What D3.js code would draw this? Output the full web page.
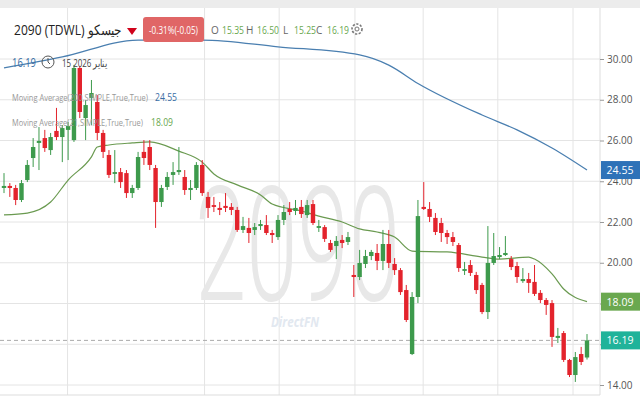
<!DOCTYPE html>
<html><head><meta charset="utf-8">
<script src="https://cdn.jsdelivr.net/npm/d3@7"></script>
<style>body{margin:0;background:#fff;font-family:"Open Sans",sans-serif}</style>
</head><body><svg id="c" width="640" height="400"></svg>
<script>
const opens=[23.67,23.77,23.67,23.08,24.06,25.14,25.88,26.12,25.53,26.47,26.17,26.52,26.02,29.56,27.10,28.09,27.89,26.37,25.29,24.36,24.45,24.40,23.42,23.67,25.44,25.68,24.65,22.98,23.72,24.31,24.45,24.21,23.57,23.67,24.80,23.23,22.83,22.69,22.79,22.74,22.59,21.61,21.71,21.61,21.80,21.85,21.46,21.26,22.10,22.64,22.54,22.74,22.34,22.88,21.71,21.75,20.97,20.82,21.12,21.02,19.40,19.30,19.94,20.33,20.48,20.09,20.92,19.94,19.64,18.66,15.52,18.32,22.74,22.64,22.20,21.95,21.46,21.26,20.87,19.60,19.89,19.40,18.91,17.58,19.99,20.28,20.38,20.18,19.84,19.10,19.20,19.06,18.52,18.17,18.02,16.31,16.55,15.23,14.49,15.52,15.35];
const highs=[24.40,23.91,23.82,24.06,25.04,26.12,26.66,26.52,26.37,27.60,26.76,26.91,29.71,29.66,27.99,28.97,28.23,26.52,25.53,25.53,24.65,24.55,23.82,25.44,26.02,26.02,24.80,23.82,24.45,24.94,25.68,24.55,24.06,24.94,25.04,23.47,23.23,22.98,23.42,22.93,22.74,22.25,22.20,21.95,22.10,22.34,21.61,22.34,22.83,22.98,23.08,23.08,23.08,23.08,22.10,21.85,21.12,21.31,21.36,21.51,19.89,20.63,20.63,20.63,20.92,21.61,21.61,20.23,19.74,18.91,18.56,23.08,23.96,22.98,22.44,22.20,21.61,21.51,20.97,20.04,20.13,19.55,19.01,21.80,21.46,20.77,21.31,20.33,20.04,19.74,19.50,19.89,18.66,18.27,18.17,16.80,16.65,15.28,15.62,15.87,16.50];
const lows=[23.42,23.23,22.83,22.98,23.96,24.70,24.55,25.44,25.29,26.02,24.94,25.04,25.93,27.10,26.02,26.76,26.02,25.14,24.16,23.91,23.67,23.18,23.18,23.57,24.80,24.55,21.71,22.74,23.57,23.82,24.31,23.33,23.08,23.57,23.28,22.20,22.49,22.34,22.49,22.34,21.51,21.46,20.97,21.36,21.61,21.36,20.97,21.12,21.85,22.34,22.34,22.20,22.20,21.85,21.51,21.02,20.53,20.18,20.72,20.87,18.32,19.15,19.74,20.13,19.64,19.64,19.74,19.40,18.42,17.09,15.47,18.02,22.59,22.00,21.36,21.02,20.92,20.82,19.55,19.40,19.35,18.47,17.48,17.24,19.89,20.18,20.33,19.64,19.01,19.01,18.52,18.37,18.02,17.44,15.87,16.06,15.13,14.39,14.15,14.98,15.25];
const closes=[23.77,23.67,23.08,23.91,24.80,25.68,25.98,25.63,26.17,26.17,26.61,26.71,29.56,27.40,27.74,28.33,26.37,25.44,24.31,24.45,23.96,23.42,23.67,25.19,25.14,24.80,22.98,23.67,24.21,24.45,24.55,23.57,23.67,24.80,23.42,22.69,22.74,22.59,22.69,22.59,21.61,21.80,21.46,21.75,21.90,21.46,21.36,22.10,22.49,22.49,22.69,22.39,22.83,21.95,21.80,21.17,20.63,21.07,20.97,21.26,19.30,19.99,20.33,20.53,20.09,20.92,19.99,19.64,18.56,17.19,18.32,22.29,22.64,22.25,21.51,21.46,21.26,21.02,19.74,19.69,19.50,18.66,17.58,19.99,20.33,20.38,20.48,19.79,19.30,19.20,19.01,18.47,18.17,17.93,16.36,16.41,15.23,14.49,15.37,15.13,16.19];
const ma21Idx=[0,4,8,11,15,16,18,22,25,30,34,36,40,44,46,51,54,58,61,64,67,70,76,82,85,90,91,94,96,100];
const ma21Val=[22.35,22.44,22.98,24.06,25.2,25.68,25.78,25.88,25.93,25.48,24.94,24.36,23.82,23.33,22.88,22.54,22.29,22.0,21.66,21.51,21.26,20.57,20.53,20.28,20.18,20.28,20.18,19.45,18.71,18.09];
const ma200Idx=[0,10,23,34,47,61,66,71,82,88,94,100];
const ma200Val=[29.56,30.1,30.93,30.93,30.6,30.2,29.7,28.8,27.25,26.52,25.63,24.55];
const yTicks=[14,16,18,20,22,24,26,28,30];
const vGrid=[10.9,34.4,47.2,60.2,71.9,84.7,97.6];

const svg=d3.select("#c");
const x=d3.scaleLinear().domain([0,100]).range([4,587]);
const y=d3.scaleLinear().domain([14,30]).range([385,59]);
const GREEN="#3d9a4c",RED="#e3232c";
svg.append("rect").attr("width",640).attr("height",400).attr("fill","#fff");
svg.append("rect").attr("width",640).attr("height",8).attr("fill","#ececec");
const g=svg.append("g");
g.selectAll(".hg").data(yTicks).join("line").attr("x1",0).attr("x2",600).attr("y1",d=>y(d)).attr("y2",d=>y(d)).attr("stroke","#e4e4e4");
g.selectAll(".vg").data(vGrid).join("line").attr("x1",d=>x(d)).attr("x2",d=>x(d)).attr("y1",8).attr("y2",395).attr("stroke","#e4e4e4");
svg.append("line").attr("x1",600).attr("x2",600).attr("y1",8).attr("y2",395).attr("stroke","#ddd");
svg.append("line").attr("x1",0).attr("x2",600).attr("y1",395).attr("y2",395).attr("stroke","#ddd");
// watermark
svg.append("text").attr("x",195).attr("y",300).attr("font-size",160).attr("font-family","Roboto").attr("font-weight",300).attr("fill","#e8e8e8").attr("textLength",205).attr("lengthAdjust","spacingAndGlyphs").text("2090");
svg.append("text").attr("x",271).attr("y",327).attr("font-size",14).attr("font-style","italic").attr("font-weight","bold").attr("fill","#e2e8f0").attr("textLength",48).attr("lengthAdjust","spacingAndGlyphs").text("DirectFN");
// axis
const ax=svg.append("g").attr("transform","translate(600,0)").call(d3.axisRight(y).tickValues(yTicks).tickFormat(d3.format(".2f")).tickSize(4));
ax.select(".domain").remove();
ax.selectAll("text").attr("font-size",10).attr("fill","#555").attr("font-family","Open Sans");
ax.selectAll("line").attr("stroke","#999");
svg.append("line").attr("x1",0).attr("x2",600).attr("y1",y(16.19)).attr("y2",y(16.19)).attr("stroke","#aaa").attr("stroke-dasharray","4,3");
const ln=d3.line().x(d=>x(d[0])).y(d=>y(d[1])).curve(d3.curveMonotoneX);
svg.append("path").attr("d",ln(ma200Idx.map((v,i)=>[v,ma200Val[i]]))).attr("fill","none").attr("stroke","#4a7fb0").attr("stroke-width",1.3);
svg.append("path").attr("d",ln(ma21Idx.map((v,i)=>[v,ma21Val[i]]))).attr("fill","none").attr("stroke","#6a9a50").attr("stroke-width",1.2);
const cs=svg.append("g").selectAll("g").data(opens.map((o,i)=>({i,o,h:highs[i],l:lows[i],c:closes[i]}))).join("g");
cs.append("line").attr("x1",d=>x(d.i)).attr("x2",d=>x(d.i)).attr("y1",d=>y(d.h)).attr("y2",d=>y(d.l)).attr("stroke",d=>d.c>=d.o?GREEN:RED).attr("stroke-width",1);
cs.append("rect").attr("x",d=>x(d.i)-2.2).attr("width",4.4).attr("y",d=>y(Math.max(d.o,d.c))).attr("height",d=>Math.max(1.5,Math.abs(y(d.o)-y(d.c)))).attr("fill",d=>d.c>=d.o?GREEN:RED);
[[24.55,"#2e72b8"],[18.09,"#6aa84f"],[16.19,"#20b39a"]].forEach(([v,c])=>{
 svg.append("rect").attr("x",601).attr("y",y(v)-9).attr("width",39).attr("height",18).attr("fill",c);
 svg.append("text").attr("x",620).attr("y",y(v)+4).attr("text-anchor","middle").attr("font-size",10.5).attr("fill","#fff").text(v.toFixed(2));
});
// header
svg.append("text").attr("x",14).attr("y",35).attr("font-size",14).attr("fill","#222").attr("textLength",108).attr("lengthAdjust","spacingAndGlyphs").text("2090  (TDWL) جيسكو");
svg.append("path").attr("d","M127,28 L137,28 L132,35 Z").attr("fill","#d0021b");
svg.append("rect").attr("x",143).attr("y",17).attr("width",61).attr("height",25).attr("rx",3).attr("fill","#e06666");
svg.append("text").attr("x",149).attr("y",34).attr("font-size",10).attr("fill","#fff").attr("textLength",49).attr("lengthAdjust","spacingAndGlyphs").text("-0.31%(-0.05)");
const ohlcL=["O","H","L","C"],ohlcV=["15.35","16.50","15.25","16.19"];
const hx=[211,246,283,316];
ohlcL.forEach((l,i)=>{
 svg.append("text").attr("x",hx[i]).attr("y",34).attr("font-size",10).attr("fill","#666").text(l);
 svg.append("text").attr("x",hx[i]+11).attr("y",34).attr("font-size",10).attr("fill","#6aa84f").attr("textLength",22).attr("lengthAdjust","spacingAndGlyphs").text(ohlcV[i]);
});
svg.append("circle").attr("cx",357).attr("cy",29).attr("r",5).attr("fill","none").attr("stroke","#777").attr("stroke-width",1.6).attr("stroke-dasharray","2.2,1.5");
svg.append("circle").attr("cx",357).attr("cy",29).attr("r",2).attr("fill","none").attr("stroke","#777");
svg.append("text").attr("x",12).attr("y",67).attr("font-size",12).attr("fill","#3a6ea5").attr("textLength",24).attr("lengthAdjust","spacingAndGlyphs").text("16.19");
svg.append("circle").attr("cx",48).attr("cy",62).attr("r",6).attr("fill","none").attr("stroke","#555");
svg.append("path").attr("d","M48,58 L48,62 L50,64").attr("fill","none").attr("stroke","#555");
svg.append("text").attr("x",62).attr("y",67).attr("font-size",10.5).attr("fill","#444").attr("textLength",45).attr("lengthAdjust","spacingAndGlyphs").text("15 2026 يناير");
svg.append("text").attr("x",12).attr("y",101).attr("font-size",9.5).attr("fill","#999").attr("textLength",136).attr("lengthAdjust","spacingAndGlyphs").text("Moving Average(200,SIMPLE,True,True)");
svg.append("text").attr("x",155).attr("y",101).attr("font-size",10.5).attr("fill","#3a6ea5").attr("textLength",22).attr("lengthAdjust","spacingAndGlyphs").text("24.55");
svg.append("text").attr("x",12).attr("y",126).attr("font-size",9.5).attr("fill","#999").attr("textLength",131).attr("lengthAdjust","spacingAndGlyphs").text("Moving Average(21,SIMPLE,True,True)");
svg.append("text").attr("x",151).attr("y",126).attr("font-size",10.5).attr("fill","#6aa84f").attr("textLength",22).attr("lengthAdjust","spacingAndGlyphs").text("18.09");
</script></body></html>
